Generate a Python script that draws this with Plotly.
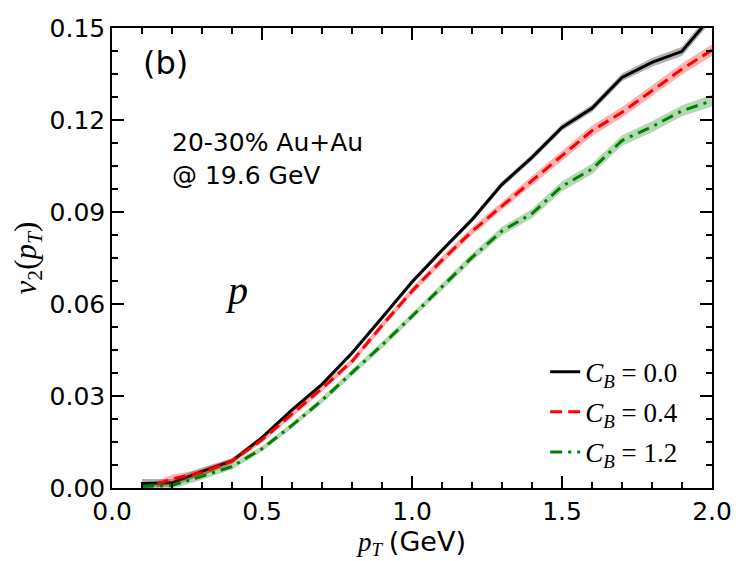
#!/usr/bin/env python3

import plotly.graph_objects as go

# pT grid (GeV); the C_B = 0.4 curve starts a bit later
pt = [0.1, 0.2, 0.3, 0.4, 0.5, 0.6, 0.7, 0.8, 0.9, 1.0,
      1.1, 1.2, 1.3, 1.4, 1.5, 1.6, 1.7, 1.8, 1.9, 2.0]
pt_cb04 = [0.15, 0.2, 0.3, 0.4, 0.5, 0.6, 0.7, 0.8, 0.9, 1.0,
           1.1, 1.2, 1.3, 1.4, 1.5, 1.6, 1.7, 1.8, 1.9, 2.0]

v2_cb00 = [0.0015, 0.0017, 0.0054, 0.0088, 0.0164, 0.0255, 0.0338, 0.0440, 0.0555, 0.0672,
           0.0775, 0.0875, 0.0990, 0.1078, 0.1176, 0.1238, 0.1339, 0.1388, 0.1424, 0.1540]
v2_cb04 = [0.0012, 0.0030, 0.0050, 0.0088, 0.0157, 0.0240, 0.0325, 0.0413, 0.0530, 0.0642,
           0.0743, 0.0837, 0.0921, 0.1002, 0.1084, 0.1165, 0.1225, 0.1296, 0.1366, 0.1428]
v2_cb12 = [0.0005, 0.0008, 0.0038, 0.0070, 0.0128, 0.0204, 0.0286, 0.0375, 0.0466, 0.0560,
           0.0657, 0.0752, 0.0838, 0.0895, 0.0984, 0.1040, 0.1133, 0.1178, 0.1230, 0.1263]

# half widths of the statistical bands
err_cb00 = [0.0014, 0.0012, 0.0013, 0.0009, 0.0007, 0.0007, 0.0007, 0.0007, 0.0007, 0.0008,
            0.0008, 0.0009, 0.0010, 0.0010, 0.0011, 0.0012, 0.0013, 0.0014, 0.0015, 0.0016]
err_cb04 = [0.0011, 0.0013, 0.0011, 0.0009, 0.0009, 0.0009, 0.0010, 0.0010, 0.0011, 0.0011,
            0.0012, 0.0013, 0.0014, 0.0015, 0.0016, 0.0017, 0.0017, 0.0018, 0.0018, 0.0019]
err_cb12 = [0.0009, 0.0010, 0.0011, 0.0010, 0.0009, 0.0009, 0.0010, 0.0010, 0.0011, 0.0011,
            0.0012, 0.0013, 0.0014, 0.0015, 0.0016, 0.0017, 0.0017, 0.0018, 0.0018, 0.0019]

labels = ['0.0', '0.4', '1.2']

MATH = 'Liberation Serif'
SANS = 'DejaVu Sans'


def add_curve(fig: go.Figure, x: list, y: list, err: list, label: str,
              color: str, band: str, dash: str) -> None:
    upper = [v + e for v, e in zip(y, err)]
    lower = [v - e for v, e in zip(y, err)]
    fig.add_trace(go.Scatter(
        x=x + x[::-1], y=upper + lower[::-1],
        fill='toself', fillcolor=band, line=dict(width=0),
        mode='lines', showlegend=False, hoverinfo='skip',
    ))
    fig.add_trace(go.Scatter(
        x=x, y=y, mode='lines',
        line=dict(color=color, width=3, dash=dash),
        name=f'<i>C</i><sub><i>B</i></sub> = {label}',
        legendgroup=label,
    ))


def main() -> None:
    fig = go.Figure()
    add_curve(fig, pt, v2_cb00, err_cb00, labels[0], 'black', 'rgba(0,0,0,0.3)', 'solid')
    add_curve(fig, pt_cb04, v2_cb04, err_cb04, labels[1], 'red', 'rgba(255,0,0,0.3)', '12px,6px')
    add_curve(fig, pt, v2_cb12, err_cb12, labels[2], 'green', 'rgba(0,128,0,0.3)',
              '12px,6px,3px,6px')

    axis_common = dict(
        showline=True, linecolor='black', linewidth=1.5, mirror='allticks',
        ticks='inside', ticklen=12, tickwidth=1.5, tickcolor='black',
        showgrid=False, zeroline=False, automargin=False,
        tickfont=dict(family=SANS, size=25, color='black'),
    )
    fig.update_xaxes(
        range=[0, 2.0], tickvals=[0, 0.5, 1.0, 1.5, 2.0], tickformat='.1f',
        minor=dict(dtick=0.1, ticks='inside', ticklen=6, tickwidth=1.5, tickcolor='black'),
        title=dict(text='<i>p</i><sub><i>T</i></sub> <span style="font-family:DejaVu Sans">(GeV)</span>',
                   font=dict(family=MATH, size=27, color='black'), standoff=4),
        **axis_common,
    )
    fig.update_yaxes(
        range=[0, 0.15], tickvals=[0, 0.03, 0.06, 0.09, 0.12, 0.15], tickformat='.2f',
        minor=dict(dtick=0.0075, ticks='inside', ticklen=6, tickwidth=1.5, tickcolor='black'),
        title=dict(text='<i>v</i><sub>2</sub>(<i>p</i><sub><i>T</i></sub>)',
                   font=dict(family=MATH, size=31, color='black'), standoff=10),
        **axis_common,
    )

    fig.add_annotation(text='(b)', x=0.048, y=0.924, xref='paper', yref='paper',
                       xanchor='left', yanchor='middle', showarrow=False,
                       font=dict(family=SANS, size=32, color='black'))
    fig.add_annotation(text='20-30% Au+Au<br>@ 19.6 GeV', x=0.096, y=0.788,
                       xref='paper', yref='paper', xanchor='left', yanchor='top',
                       align='left', showarrow=False,
                       font=dict(family=SANS, size=25, color='black'))
    fig.add_annotation(text='<i>p</i>', x=0.208, y=0.43, xref='paper', yref='paper',
                       xanchor='center', yanchor='middle', showarrow=False,
                       font=dict(family=MATH, size=40, color='black'))

    # the page body adds 8px on the left and top, so the margins are shifted
    fig.update_layout(
        width=747, height=561,
        margin=dict(l=104, r=43, t=20, b=81),
        plot_bgcolor='white', paper_bgcolor='white',
        legend=dict(x=0.722, y=0.305, xanchor='left', yanchor='top',
                    bgcolor='rgba(0,0,0,0)', tracegroupgap=2,
                    font=dict(family=MATH, size=27, color='black')),
    )

    fig.write_html('out.html')


if __name__ == '__main__':
    main()
